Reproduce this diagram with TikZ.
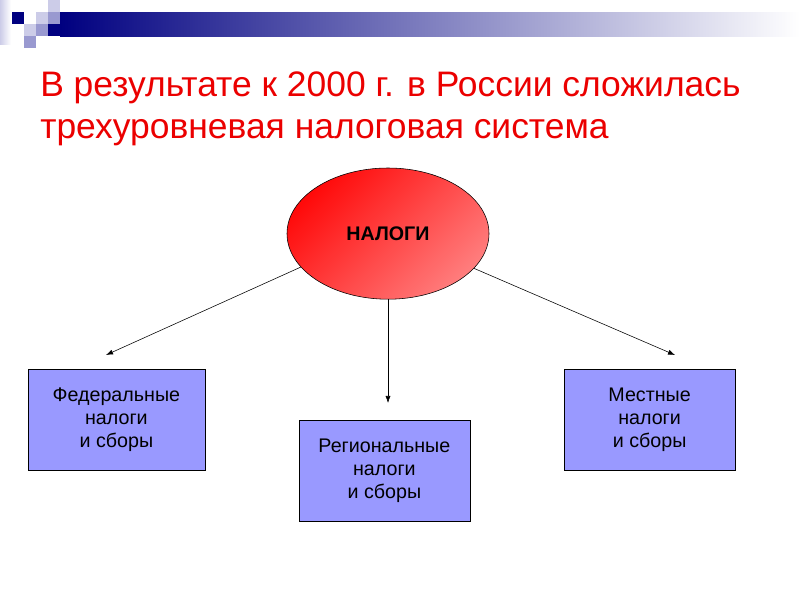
\documentclass[tikz,border=0pt]{standalone}
\usepackage{fontspec}
\setmainfont{Liberation Sans}
\usetikzlibrary{shapes.geometric,arrows.meta}

\definecolor{navy}{RGB}{0,0,128}
\definecolor{pale}{RGB}{204,204,232}
\definecolor{mid}{RGB}{153,153,208}
\definecolor{lilac}{RGB}{153,153,255}
\definecolor{titlered}{RGB}{235,0,0}
\definecolor{redA}{RGB}{255,10,10}
\definecolor{redB}{RGB}{255,125,125}

\begin{document}
\begin{tikzpicture}[
    level/.style={draw, fill=lilac, minimum width=4.28cm, minimum height=2.53cm, align=center, font=\fontsize{14}{16.4}\selectfont},
    title/.style={anchor=base west, inner sep=0pt, text=titlered, font=\fontsize{25.2}{30}\selectfont}
    ]
    \def\kvadrat#1#2{
    \fill[#2] (#1) rectangle ++(0.3,-0.3);
    }

    \useasboundingbox (0,0) rectangle (20,-15);

    % header
    \fill[left color=pale, right color=white] (0,0) rectangle (0.27,-1.1);
    \kvadrat{1.2,0}{pale};
    \kvadrat{0.3,-0.3}{navy};
    \kvadrat{0.9,-0.3}{pale};
    \kvadrat{1.2,-0.3}{mid};
    \kvadrat{0.6,-0.6}{pale};
    \kvadrat{0.9,-0.6}{mid};
    \kvadrat{1.2,-0.6}{navy};
    \kvadrat{0.6,-0.9}{mid};
    \shade[left color=navy, right color=white] (1.5,-0.3) rectangle (20,-0.9);

    \node[title] (zagolovok1) at (1.0,-2.42) {В результате к 2000 г. в России сложилась};
    \node[title] (zagolovok2) at (1.0,-3.47) {трехуровневая налоговая система};

    % levels
    \node[ellipse, draw, inner sep=0pt, minimum width=5.05cm, minimum height=3.28cm, top color=redA, bottom color=redB, shading angle=45, font=\fontsize{14}{15}\selectfont\bfseries] (nalogi) at (9.7,-5.84) {\raisebox{-2pt}{НАЛОГИ}};

    \node[level, minimum width=4.43cm] (federal) at (2.91,-10.5) {Федеральные\\налоги\\и сборы};
    \node[level] (region) at (9.61,-11.76) {Региональные\\налоги\\и сборы};
    \node[level] (mestnye) at (16.24,-10.5) {Местные\\налоги\\и сборы};

    \coordinate (fedtip) at (2.65,-8.875);
    \coordinate (regtip) at (9.7,-10.075);
    \coordinate (mesttip) at (16.875,-8.875);

    \draw[-{Latex[length=5pt,width=3.6pt]}] (nalogi.201) -- (fedtip);
    \draw[-{Latex[length=5pt,width=3.6pt]}] (nalogi.south) -- (regtip);
    \draw[-{Latex[length=5pt,width=3.6pt]}] (nalogi.338) -- (mesttip);
\end{tikzpicture}
\end{document}
